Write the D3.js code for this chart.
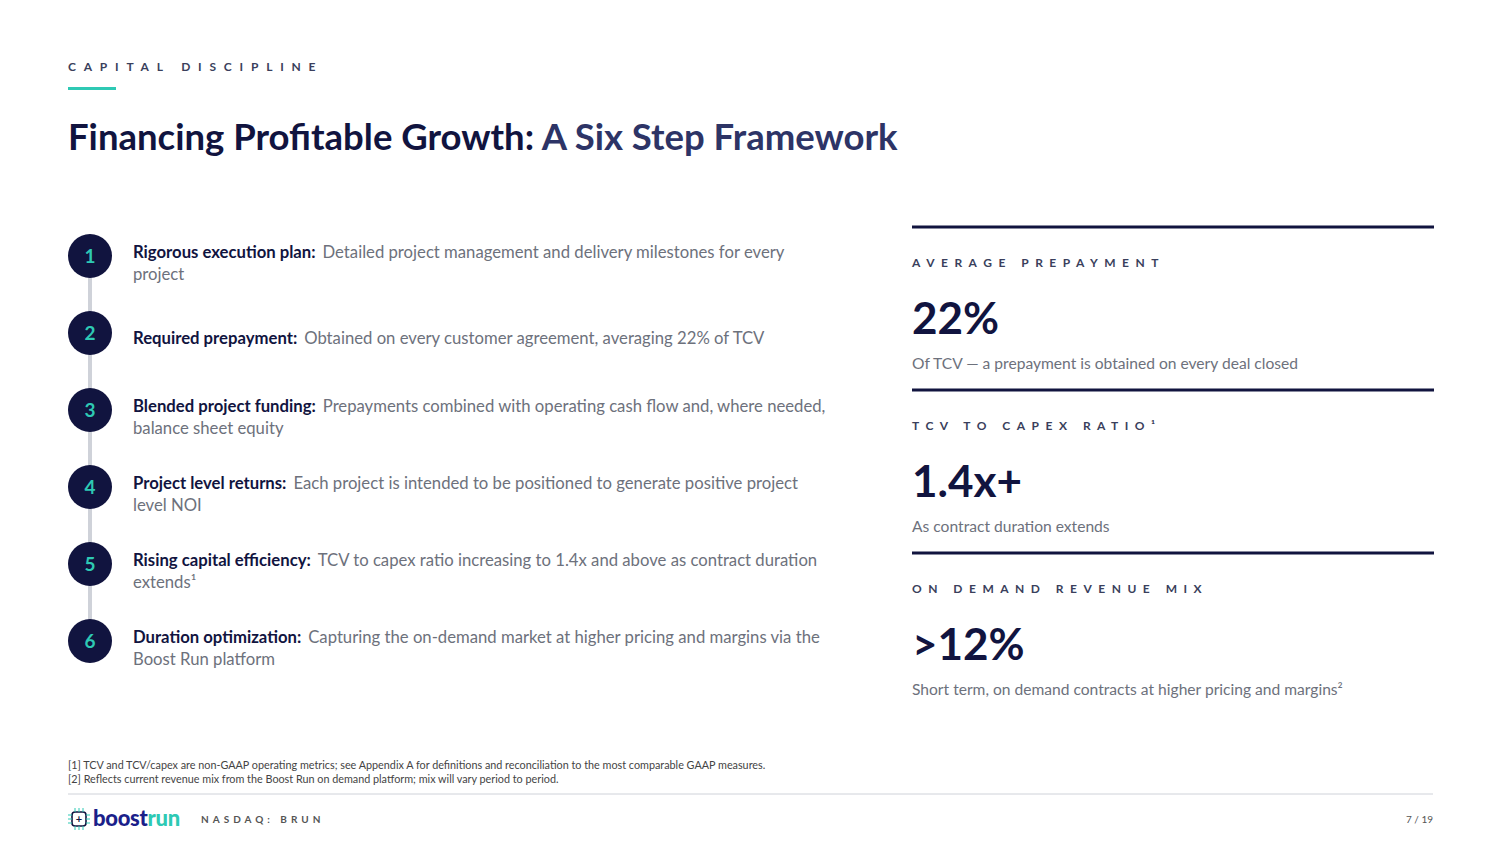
<!DOCTYPE html>
<html><head><meta charset="utf-8">
<script src="https://cdn.jsdelivr.net/npm/d3@7"></script>
<style>
body{margin:0;background:#fff;}
text{font-family:Lato,"Open Sans",sans-serif;}
</style></head>
<body>
<script>
const steps = [1, 2, 3, 4, 5, 6];
const stepTitles = ["Rigorous execution plan:", "Required prepayment:", "Blended project funding:", "Project level returns:", "Rising capital efficiency:", "Duration optimization:"];
const stepLine1 = ["Detailed project management and delivery milestones for every", "Obtained on every customer agreement, averaging 22% of TCV", "Prepayments combined with operating cash flow and, where needed,", "Each project is intended to be positioned to generate positive project", "TCV to capex ratio increasing to 1.4x and above as contract duration", "Capturing the on-demand market at higher pricing and margins via the"];
const stepLine2 = ["project", "", "balance sheet equity", "level NOI", "extends\u00b9", "Boost Run platform"];
const stepY = [256, 333, 410, 487, 564, 641];

const kpiLabels = ["AVERAGE PREPAYMENT", "TCV TO CAPEX RATIO\u00b9", "ON DEMAND REVENUE MIX"];
const kpiValues = ["22%", "1.4x+", ">12%"];
const kpiNotes = ["Of TCV \u2014 a prepayment is obtained on every deal closed", "As contract duration extends", "Short term, on demand contracts at higher pricing and margins\u00b2"];

const footnotes = ["[1] TCV and TCV/capex are non-GAAP operating metrics; see Appendix A for definitions and reconciliation to the most comparable GAAP measures.", "[2] Reflects current revenue mix from the Boost Run on demand platform; mix will vary period to period."];

const navy = "#11143f", teal = "#2ec9b4", gray = "#6d717c";
const svg = d3.select("body").append("svg").attr("width", 1500).attr("height", 843);

svg.append("text").attr("x", 68).attr("y", 71).attr("font-size", 12).attr("font-weight", 700)
  .attr("letter-spacing", "7.8px").attr("fill", "#3a3f5c").text("CAPITAL DISCIPLINE");
svg.append("rect").attr("x", 68).attr("y", 87).attr("width", 48).attr("height", 3).attr("fill", teal);
const t = svg.append("text").attr("x", 68).attr("y", 150).attr("font-size", 36.5).attr("font-weight", 700);
t.append("tspan").attr("fill", navy).text("Financing Profitable Growth: ");
t.append("tspan").attr("fill", "#2d3466").text("A Six Step Framework");

// timeline
const y = d3.scaleOrdinal().domain(steps).range(stepY);
svg.append("line").attr("x1", 90).attr("x2", 90).attr("y1", y(1)).attr("y2", y(6))
  .attr("stroke", "#cfd2d9").attr("stroke-width", 4);
const g = svg.selectAll("g.step").data(steps).enter().append("g")
  .attr("transform", d => `translate(0,${y(d)})`);
g.append("circle").attr("cx", 90).attr("r", 22).attr("fill", navy);
g.append("text").attr("x", 90).attr("y", 7).attr("text-anchor", "middle").attr("font-size", 19)
  .attr("font-weight", 700).attr("fill", teal).text(d => d);
g.each(function(d, i) {
  const sel = d3.select(this);
  const two = stepLine2[i] !== "";
  const l1 = sel.append("text").attr("x", 133).attr("y", two ? 2 : 11).attr("font-size", 16.7);
  l1.append("tspan").attr("font-weight", 700).attr("fill", navy).text(stepTitles[i]);
  l1.append("tspan").attr("fill", gray).attr("dx", 7).text(stepLine1[i]);
  if (two) sel.append("text").attr("x", 133).attr("y", 24).attr("font-size", 16.7).attr("fill", gray).text(stepLine2[i]);
});

// KPI panel
const kpiTop = [227, 390, 553];
kpiLabels.forEach((lab, i) => {
  const k = svg.append("g").attr("transform", `translate(912,${kpiTop[i]})`);
  k.append("rect").attr("x", 0).attr("y", -1.5).attr("width", 522).attr("height", 3).attr("fill", navy);
  k.append("text").attr("y", 40).attr("font-size", 12).attr("font-weight", 700).attr("letter-spacing", "6.5px")
    .attr("fill", "#3a3f5c").text(lab);
  k.append("text").attr("y", 107).attr("font-size", 44).attr("font-weight", 700).attr("fill", navy).text(kpiValues[i]);
  k.append("text").attr("y", 142).attr("font-size", 15.6).attr("fill", gray).text(kpiNotes[i]);
});

footnotes.forEach((f, i) => svg.append("text").attr("x", 68).attr("y", 769 + i * 14)
  .attr("font-size", 10.8).attr("fill", "#444").text(f));
svg.append("line").attr("x1", 68).attr("x2", 1433).attr("y1", 794).attr("y2", 794).attr("stroke", "#cfd2d9");

// logo
const lg = svg.append("g").attr("transform", "translate(79,819)");
lg.append("rect").attr("x", -7).attr("y", -7).attr("width", 14).attr("height", 14).attr("rx", 3)
  .attr("fill", "none").attr("stroke", navy).attr("stroke-width", 1.6);
[-4, 0, 4].forEach(o => {
  lg.append("line").attr("x1", -11).attr("x2", -7).attr("y1", o).attr("y2", o).attr("stroke", teal);
  lg.append("line").attr("x1", 7).attr("x2", 11).attr("y1", o).attr("y2", o).attr("stroke", teal);
  lg.append("line").attr("y1", -11).attr("y2", -7).attr("x1", o).attr("x2", o).attr("stroke", teal);
  lg.append("line").attr("y1", 7).attr("y2", 11).attr("x1", o).attr("x2", o).attr("stroke", teal);
});
lg.append("text").attr("text-anchor", "middle").attr("y", 4).attr("font-size", 11).attr("font-weight", 700).attr("fill", navy).text("+");
const lt = svg.append("text").attr("x", 93).attr("y", 826).attr("font-size", 22).attr("font-weight", 900).attr("letter-spacing", "-0.3px");
lt.append("tspan").attr("fill", "#1b1f8a").text("boost");
lt.append("tspan").attr("fill", teal).text("run");
svg.append("text").attr("x", 201).attr("y", 823).attr("font-size", 10).attr("font-weight", 700)
  .attr("letter-spacing", "4px").attr("fill", "#555").text("NASDAQ: BRUN");
svg.append("text").attr("x", 1433).attr("y", 823).attr("text-anchor", "end").attr("font-size", 10)
  .attr("fill", "#555").text("7 / 19");
</script>
</body></html>
